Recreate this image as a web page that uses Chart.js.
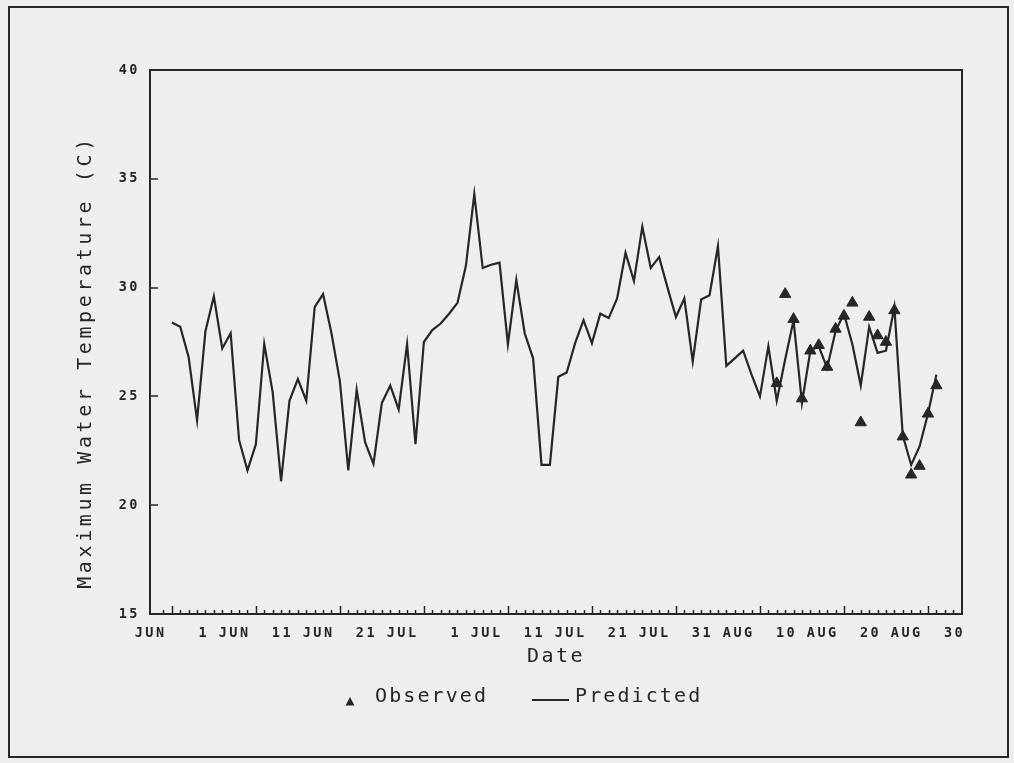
<!DOCTYPE html>
<html>
<head>
<meta charset="utf-8">
<title>Maximum Water Temperature</title>
<style>
  html, body { margin: 0; padding: 0; background: #eeeeee; }
  canvas { display: block; }
</style>
<script src="https://cdn.jsdelivr.net/npm/chart.js@4.4.1/dist/chart.umd.min.js"></script>
</head>
<body>
<canvas id="chart" width="1014" height="763"></canvas>
<script>
// Day numbers are counted from 1 June (day 0).
const tickDays   = [0, 10, 20, 30, 40, 50, 60, 70, 80, 90];
const tickLabels = ['JUN   1', 'JUN  11', 'JUN  21', 'JUL   1', 'JUL  11',
                    'JUL  21', 'JUL  31', 'AUG  10', 'AUG  20', 'AUG  30'];
const yTicks = [15, 20, 25, 30, 35, 40];

// Predicted daily maximum, 1 Jun .. 31 Aug
const predicted = [
  28.4, 28.2, 26.8, 23.9, 28.0, 29.6, 27.2, 27.9, 23.0, 21.6,
  22.8, 27.4, 25.2, 21.1, 24.8, 25.8, 24.8, 29.1, 29.7, 27.9,
  25.7, 21.6, 25.3, 22.9, 21.9, 24.7, 25.5, 24.4, 27.4, 22.8,
  27.5, 28.05, 28.35, 28.8, 29.3, 31.0, 34.3, 30.9, 31.05, 31.15,
  27.4, 30.35, 27.9, 26.75, 21.85, 21.85, 25.9, 26.1, 27.45, 28.5,
  27.45, 28.8, 28.6, 29.5, 31.6, 30.3, 32.8, 30.9, 31.4, 30.0,
  28.65, 29.5, 26.6, 29.45, 29.65, 31.9, 26.4, 26.75, 27.1, 26.0,
  25.0, 27.3, 24.8, 26.7, 28.5, 24.7, 27.1, 27.3, 26.3, 28.0,
  28.8, 27.4, 25.5, 28.2, 27.0, 27.1, 29.1, 23.2, 21.85, 22.7,
  24.2, 26.0
];

// Observed daily maximum, 12 Aug .. 31 Aug
const observedDays = [72, 73, 74, 75, 76, 77, 78, 79, 80, 81,
                      82, 83, 84, 85, 86, 87, 88, 89, 90, 91];
const observed = [25.6, 29.7, 28.55, 24.9, 27.1, 27.35, 26.35, 28.1, 28.7, 29.3,
                  23.8, 28.65, 27.8, 27.5, 28.95, 23.15, 21.4, 21.8, 24.2, 25.5];

const INK = '#262626';
const MONO = 'DejaVu Sans Mono';
const SPACING = '2.5px';

// Page frame, plot box, inward tick marks, rotated y title and legend
const plotDecor = {
  id: 'plotDecor',
  beforeUpdate(chart) { chart.ctx.letterSpacing = SPACING; },
  beforeLayout(chart) { chart.ctx.letterSpacing = SPACING; },
  beforeDraw(chart) {
    const ctx = chart.ctx;
    ctx.save();
    ctx.fillStyle = '#eeeeee';
    ctx.fillRect(0, 0, chart.width, chart.height);
    ctx.strokeStyle = INK;
    ctx.lineWidth = 2;
    ctx.strokeRect(9, 7, 999, 750);
    ctx.restore();
    ctx.letterSpacing = SPACING;
  },
  afterDraw(chart) {
    const { ctx, chartArea: a, scales: { x, y } } = chart;
    ctx.save();
    ctx.strokeStyle = INK;
    ctx.lineWidth = 2;
    ctx.strokeRect(a.left, a.top, a.right - a.left, a.bottom - a.top);

    ctx.lineWidth = 1.5;
    ctx.beginPath();
    for (let d = -1; d <= 93; d++) {
      const px = Math.round(x.getPixelForValue(d)) + 0.5;
      const len = tickDays.includes(d) ? 8 : 4;
      ctx.moveTo(px, a.bottom);
      ctx.lineTo(px, a.bottom - len);
    }
    yTicks.forEach(v => {
      const py = Math.round(y.getPixelForValue(v));
      ctx.moveTo(a.left, py);
      ctx.lineTo(a.left + 8, py);
    });
    ctx.stroke();

    ctx.fillStyle = INK;
    // y axis title
    ctx.save();
    ctx.translate(86, 362);
    ctx.rotate(-Math.PI / 2);
    ctx.font = `20px "${MONO}"`;
    ctx.letterSpacing = '3.6px';
    ctx.textAlign = 'center';
    ctx.textBaseline = 'middle';
    ctx.fillText('Maximum Water Temperature (C)', 0, 0);
    ctx.restore();

    // legend
    ctx.font = `20px "${MONO}"`;
    ctx.letterSpacing = '2.1px';
    ctx.textAlign = 'left';
    ctx.textBaseline = 'middle';
    ctx.beginPath();
    ctx.moveTo(350, 697);
    ctx.lineTo(354.5, 705.5);
    ctx.lineTo(345.5, 705.5);
    ctx.closePath();
    ctx.fill();
    ctx.fillText('Observed', 375, 697);
    ctx.lineWidth = 2;
    ctx.beginPath();
    ctx.moveTo(532, 700);
    ctx.lineTo(569, 700);
    ctx.stroke();
    ctx.fillText('Predicted', 575, 697);
    ctx.restore();
  }
};

new Chart(document.getElementById('chart'), {
  type: 'line',
  data: {
    datasets: [
      {
        label: 'Predicted',
        data: predicted.map((v, i) => ({ x: i, y: v })),
        borderColor: INK,
        borderWidth: 2.2,
        pointRadius: 0,
        tension: 0,
        fill: false,
        order: 2
      },
      {
        type: 'scatter',
        label: 'Observed',
        data: observed.map((v, i) => ({ x: observedDays[i], y: v })),
        pointStyle: 'triangle',
        pointRadius: 6.5,
        backgroundColor: INK,
        borderColor: INK,
        borderWidth: 1,
        order: 1
      }
    ]
  },
  options: {
    responsive: false,
    animation: false,
    devicePixelRatio: 1,
    layout: { padding: { left: 0, top: 70, right: 52, bottom: 94 } },
    plugins: { legend: { display: false }, tooltip: { enabled: false } },
    scales: {
      x: {
        type: 'linear',
        min: -2.6,
        max: 94.05,
        grid: { display: false, drawTicks: false },
        border: { display: false },
        afterBuildTicks: s => { s.ticks = tickDays.map(v => ({ value: v })); },
        afterFit: s => { s.height = 55; },
        ticks: {
          autoSkip: false,
          maxRotation: 0,
          padding: 11,
          color: INK,
          font: { family: MONO, size: 13.5, weight: 'bold' },
          callback: (v, i) => tickLabels[i]
        },
        title: {
          display: true,
          text: 'Date',
          color: INK,
          font: { family: MONO, size: 20 },
          padding: { top: 0, bottom: 0 }
        }
      },
      y: {
        min: 15,
        max: 40,
        grid: { display: false, drawTicks: false },
        border: { display: false },
        afterBuildTicks: s => { s.ticks = yTicks.map(v => ({ value: v })); },
        afterFit: s => { s.width = 150; },
        ticks: {
          padding: 10,
          color: INK,
          font: { family: MONO, size: 13.5, weight: 'bold' }
        }
      }
    }
  },
  plugins: [plotDecor]
});
</script>
</body>
</html>
